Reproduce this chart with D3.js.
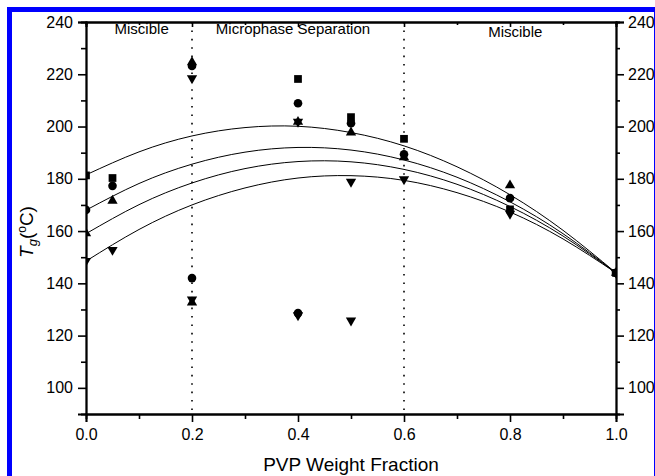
<!DOCTYPE html>
<html>
<head>
<meta charset="utf-8">
<script src="https://cdn.jsdelivr.net/npm/d3@7"></script>
<style>
  body { margin: 0; background: #fff; }
  text { font-family: "Liberation Sans", Arial, sans-serif; fill: #000; }
</style>
</head>
<body>
<div id="chart"></div>
<script>
// measured Tg values (deg C) vs PVP weight fraction
let squareW = [0, 0.05, 0.4, 0.5, 0.6, 0.8, 1.0],
  squareTg = [181.3, 180.3, 218.2, 203.6, 195.3, 168.3, 144];
let circleW = [0, 0.05, 0.2, 0.2, 0.4, 0.4, 0.5, 0.6, 0.8, 1.0],
  circleTg = [168.1, 177.3, 223.2, 142, 208.9, 128.6, 201.3, 189.4, 172.6, 144];
let upW = [0, 0.05, 0.2, 0.2, 0.4, 0.5, 0.6, 0.8, 1.0],
  upTg = [159.2, 171.6, 224.6, 132.7, 201.8, 197.7, 188.2, 177.5, 144];
let downW = [0, 0.05, 0.2, 0.2, 0.4, 0.4, 0.5, 0.5, 0.6, 0.8, 1.0],
  downTg = [148.6, 152.8, 218.5, 133.8, 201.8, 127.8, 178.9, 125.8, 179.8, 166.6, 144];

// fitted curves at 0.1 steps
let fitW = [0, 0.1, 0.2, 0.3, 0.4, 0.5, 0.6, 0.7, 0.8, 0.9, 1.0];
let fitSquare = [181.5, 190.3, 196.4, 199.6, 200.1, 197.7, 192.6, 184.6, 173.9, 160.3, 144],
  fitCircle = [168, 178.2, 185.6, 190.2, 192.0, 191.0, 187.2, 180.6, 171.2, 159.0, 144],
  fitUp = [159, 170.1, 178.4, 183.9, 186.6, 186.5, 183.6, 177.9, 169.4, 158.1, 144],
  fitDown = [148.5, 160.6, 170.0, 176.5, 180.3, 181.2, 179.4, 174.7, 167.3, 157.0, 144];

let xMajor = [0, 0.2, 0.4, 0.6, 0.8, 1.0],
  xMinor = [0.1, 0.3, 0.5, 0.7, 0.9],
  yMajor = [100, 120, 140, 160, 180, 200, 220, 240],
  yMinor = [110, 130, 150, 170, 190, 210, 230];
let phaseBounds = [0.2, 0.6];

const W = 655, H = 476;
const margin = { top: 22, right: 39, bottom: 62, left: 86 };
const width = W - margin.left - margin.right,
  height = H - margin.top - margin.bottom;

const svg = d3.select("#chart").append("svg")
  .attr("width", W)
  .attr("height", H);

// blue frame
svg.append("rect")
  .attr("x", 9.5).attr("y", 9.5)
  .attr("width", 647).attr("height", 490)
  .attr("fill", "none")
  .attr("stroke", "#0000ff")
  .attr("stroke-width", 5);

const x = d3.scaleLinear().domain([0, 1]).range([0, width]);
const y = d3.scaleLinear().domain([90, 240]).range([height, 0]);

svg.append("defs").append("clipPath")
  .attr("id", "clip")
  .append("rect")
  .attr("width", width)
  .attr("height", height);

const g = svg.append("g")
  .attr("transform", "translate(" + margin.left + "," + margin.top + ")");

// dotted phase boundaries
g.selectAll(".bound")
  .data(phaseBounds)
  .enter().append("line")
  .attr("class", "bound")
  .attr("x1", d => x(d)).attr("x2", d => x(d))
  .attr("y1", 0).attr("y2", height)
  .attr("stroke", "#000")
  .attr("stroke-width", 1.6)
  .attr("stroke-dasharray", "1.6,6.8");

const plot = g.append("g").attr("clip-path", "url(#clip)");

// fit curves
let line = d3.line()
  .x((d, i) => x(fitW[i]))
  .y(d => y(d))
  .curve(d3.curveNatural);

[fitSquare, fitCircle, fitUp, fitDown].forEach(function (f) {
  plot.append("path")
    .attr("d", line(f))
    .attr("fill", "none")
    .attr("stroke", "#000")
    .attr("stroke-width", 1);
});

// markers
let series = [
  { w: squareW, t: squareTg, sym: d3.symbolSquare, size: 60, rot: 0 },
  { w: circleW, t: circleTg, sym: d3.symbolCircle, size: 58, rot: 0 },
  { w: upW, t: upTg, sym: d3.symbolTriangle, size: 46, rot: 0 },
  { w: downW, t: downTg, sym: d3.symbolTriangle, size: 46, rot: 180 }
];

series.forEach(function (s) {
  plot.selectAll(null)
    .data(s.t)
    .enter().append("path")
    .attr("d", d3.symbol().type(s.sym).size(s.size))
    .attr("transform", (d, i) => "translate(" + x(s.w[i]) + "," + y(d) + ") rotate(" + s.rot + ")")
    .attr("fill", "#000");
});

// axes
function styleAxis(sel) {
  sel.select(".domain").attr("stroke-width", 1.8);
  sel.selectAll(".tick line").attr("stroke-width", 1.6);
  sel.selectAll("text").style("font-size", "16px").style("font-family", "Liberation Sans, Arial, sans-serif");
}

g.append("g")
  .attr("transform", "translate(0," + height + ")")
  .call(d3.axisBottom(x).tickValues(xMajor).tickSize(8).tickPadding(7).tickFormat(d3.format(".1f")))
  .call(styleAxis);
g.append("g")
  .attr("transform", "translate(0," + height + ")")
  .call(d3.axisBottom(x).tickValues(xMinor).tickSize(5).tickFormat(""))
  .call(styleAxis);

g.append("g")
  .call(d3.axisTop(x).tickValues(xMajor).tickSize(-5).tickFormat(""))
  .call(styleAxis);
g.append("g")
  .call(d3.axisTop(x).tickValues(xMinor).tickSize(-3).tickFormat(""))
  .call(styleAxis);

g.append("g")
  .call(d3.axisLeft(y).tickValues(yMajor).tickSize(8).tickPadding(5))
  .call(styleAxis);
g.append("g")
  .call(d3.axisLeft(y).tickValues(yMinor).tickSize(5).tickFormat(""))
  .call(styleAxis);

g.append("g")
  .attr("transform", "translate(" + width + ",0)")
  .call(d3.axisRight(y).tickValues(yMajor).tickSize(8).tickPadding(4))
  .call(styleAxis);
g.append("g")
  .attr("transform", "translate(" + width + ",0)")
  .call(d3.axisRight(y).tickValues(yMinor).tickSize(4).tickFormat(""))
  .call(styleAxis);

// region labels
g.append("text")
  .attr("x", x(0.105)).attr("y", 11.5)
  .style("text-anchor", "middle")
  .style("font-size", "15px")
  .text("Miscible");
g.append("text")
  .attr("x", x(0.245)).attr("y", 11.5)
  .style("font-size", "15px")
  .text("Microphase Separation");
g.append("text")
  .attr("x", x(0.81)).attr("y", 14.5)
  .style("text-anchor", "middle")
  .style("font-size", "15px")
  .text("Miscible");

// axis titles
svg.append("text")
  .attr("x", margin.left + width / 2)
  .attr("y", 471)
  .style("text-anchor", "middle")
  .style("font-size", "19px")
  .text("PVP Weight Fraction");

const yt = svg.append("text")
  .attr("transform", "translate(33,232) rotate(-90)")
  .style("text-anchor", "middle")
  .style("font-size", "19px");
yt.append("tspan").style("font-style", "italic").text("T");
yt.append("tspan").style("font-style", "italic").style("font-size", "13px").attr("dy", 4).text("g");
yt.append("tspan").attr("dy", -4).text("(");
yt.append("tspan").style("font-size", "12px").attr("dy", -7).text("o");
yt.append("tspan").attr("dy", 7).text("C)");
</script>
</body>
</html>
